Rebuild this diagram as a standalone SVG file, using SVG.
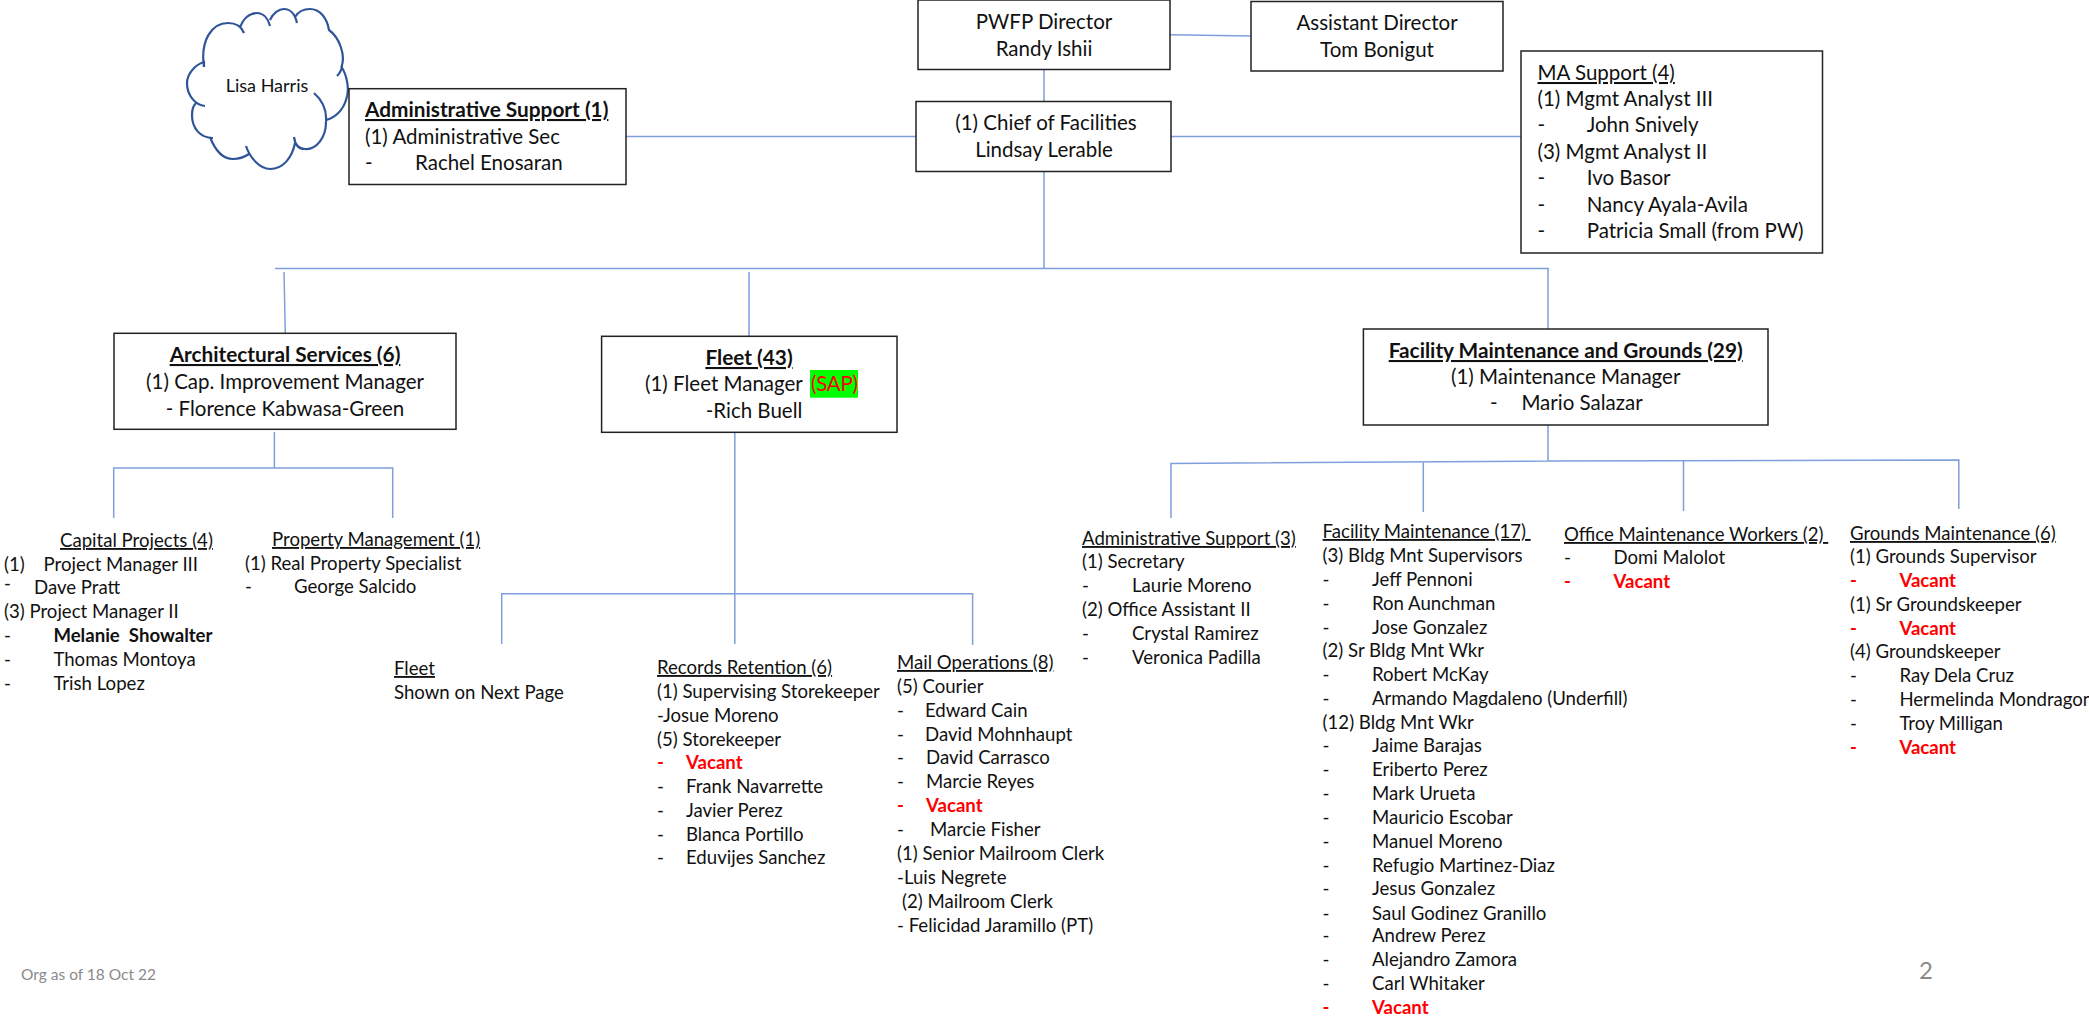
<svg xmlns="http://www.w3.org/2000/svg" width="2089" height="1016" viewBox="0 0 2089 1016">
<style>
text{font-family:"Lato","Carlito","Liberation Sans",sans-serif;fill:#111;font-size:18.6px}
.b{font-size:20.500px}
.m{text-anchor:middle}
.t{font-weight:700;text-decoration:underline;font-size:20.800px}
.u{text-decoration:underline}
.s{font-weight:700}
.v{font-weight:700;fill:#f00}
.r{fill:#f00}
rect.box{fill:#fff;stroke:#222;stroke-width:1.5}
#connectors path{fill:none;stroke:#7f9fdc;stroke-width:1.5}
#cloud path{fill:none;stroke:#2f5597;stroke-width:2.2}
</style>
<rect width="2089" height="1016" fill="#fff"/>
<g id="connectors">
<path d="M1044 69V102M1170 34.700L1251 36M626 136.500H916M1171 136.500H1521M1044 171V269M275 268.500H1549M284 272L285.300 333M749 272V336M1548 269V333"/>
<path d="M274.400 432V468M113.700 518V468H392.700V518"/>
<path d="M734.800 432V644M501.700 644V593.700H972.600V645"/>
<path d="M1548 425V461M1171 518V463.500L1548 461L1958.800 460V509M1423.300 462V512M1683.500 461V511"/>
</g>
<g id="cloud">
<path d="M204 67C200 40 212 23 228 23C237 23 242 28 244 33M240 28C243 18 250 13 257 13C263 13 268 18 270 26M270 20C273 13 279 9 284 9C290 9 295 14 297 23M295 17C298 12 303 9 310 9C320 9 327 18 329 30C340 38 345 55 342 65C342 70 340 73 337 76M341 66C347 75 350 90 346 100C343 110 335 118 326 120M314 93C322 100 327 110 326 122C326 138 316 150 305 149C299 149 295 145 294 137M295 143C292 158 283 169 270 169C260 169 250 158 246 146M249 154C243 158 238 159 233 159C223 159 215 150 210 137M213 138C200 138 192 128 192 115C192 110 193 106 196 103M205 106C195 105 187 95 187 83C187 75 194 65 204 62V67"/>
<text x="267" y="92" class="m" style="font-size:18px">Lisa Harris</text>
</g>
<g id="director"><rect class="box" x="918" y="0" width="252" height="69.500"/><text class="b m" x="1044" y="29">PWFP Director</text><text class="b m" x="1044" y="56">Randy Ishii</text></g>
<g id="assistant"><rect class="box" x="1251" y="1.500" width="252" height="69.500"/><text class="b m" x="1377" y="30">Assistant Director</text><text class="b m" x="1377" y="57">Tom Bonigut</text></g>
<g id="chief"><rect class="box" x="916" y="101.500" width="255" height="70"/><text class="b m" x="1046" y="130">(1) Chief of Facilities</text><text class="b m" x="1044" y="157">Lindsay Lerable</text></g>
<g id="admin"><rect class="box" x="349" y="88.700" width="277" height="95.800"/><text class="t" x="365" y="117">Administrative Support (1)</text><text class="b" x="365" y="144">(1) Administrative Sec</text><text class="b" x="365" y="170">-</text><text class="b" x="415" y="170">Rachel Enosaran</text></g>
<g id="ma-support"><rect class="box" x="1521" y="51" width="301.500" height="202"/>
<text class="b u" x="1537.500" y="80">MA Support (4)</text><text class="b" x="1537.500" y="106">(1) Mgmt Analyst III</text><text class="b" x="1537.500" y="132">-</text><text class="b" x="1586.700" y="132">John Snively</text><text class="b" x="1537.500" y="159">(3) Mgmt Analyst II</text><text class="b" x="1537.500" y="185">-</text><text class="b" x="1586.700" y="185">Ivo Basor</text><text class="b" x="1537.500" y="212">-</text><text class="b" x="1586.700" y="212">Nancy Ayala-Avila</text><text class="b" x="1537.500" y="238">-</text><text class="b" x="1586.700" y="238">Patricia Small (from PW)</text></g>
<g id="architectural"><rect class="box" x="114" y="333.300" width="342" height="96"/><text class="t m" x="285" y="362">Architectural Services (6)</text><text class="b m" x="285" y="389">(1) Cap. Improvement Manager</text><text class="b m" x="285" y="416">-  Florence Kabwasa-Green</text></g>
<g id="fleet"><rect class="box" x="601.600" y="336.300" width="295.400" height="96"/><rect x="810" y="370" width="48" height="27.700" fill="#0f0"/><text class="t m" x="749" y="365">Fleet (43)</text><text class="b" x="645" y="391">(1) Fleet Manager</text><text class="b r" x="811" y="391" textLength="47">(SAP)</text><text class="b m" x="754" y="418">-Rich Buell</text></g>
<g id="fmg"><rect class="box" x="1363.400" y="329" width="404.600" height="96"/><text class="t m" x="1565.700" y="358">Facility Maintenance and Grounds (29)</text><text class="b m" x="1565.700" y="384">(1) Maintenance Manager</text><text class="b" x="1490" y="410">-</text><text class="b" x="1521.400" y="410">Mario Salazar</text></g>
<g id="capital-projects" transform="translate(0 1)">
<text class="u" x="60" y="546">Capital Projects (4)</text><text x="4" y="570">(1)</text><text x="43.600" y="570">Project Manager III</text><text x="4" y="589">-</text><text x="34" y="593">Dave Pratt</text><text x="4" y="617">(3) Project Manager II</text><text x="4" y="641">-</text><text class="s" x="53.400" y="641">Melanie &#160;Showalter</text><text x="4" y="665">-</text><text x="53.400" y="665">Thomas Montoya</text><text x="4" y="689">-</text><text x="53.400" y="689">Trish Lopez</text>
</g>
<g id="property" transform="translate(0 1)">
<text class="u" x="272" y="545">Property Management (1)</text><text x="245" y="569">(1) Real Property Specialist</text><text x="245" y="592">-</text><text x="294" y="592">George Salcido</text>
</g>
<g id="fleet-note" transform="translate(0 1)"><text class="u" x="394" y="674">Fleet</text><text x="394" y="698">Shown on Next Page</text></g>
<g id="records" transform="translate(0 1)">
<text class="u" x="657" y="673">Records Retention (6)</text><text x="657" y="697">(1) Supervising Storekeeper</text><text x="657" y="721">-Josue Moreno</text><text x="657" y="745">(5) Storekeeper</text><text class="v" x="657" y="768">-</text><text class="v" x="686" y="768">Vacant</text><text x="657" y="792">-</text><text x="686" y="792">Frank Navarrette</text><text x="657" y="816">-</text><text x="686" y="816">Javier Perez</text><text x="657" y="840">-</text><text x="686" y="840">Blanca Portillo</text><text x="657" y="863">-</text><text x="686" y="863">Eduvijes Sanchez</text>
</g>
<g id="mail" transform="translate(0 1)">
<text class="u" x="897" y="668">Mail Operations (8)</text><text x="897" y="692">(5) Courier</text><text x="897" y="716">-</text><text x="925" y="716">Edward Cain</text><text x="897" y="740">-</text><text x="925" y="740">David Mohnhaupt</text><text x="897" y="763">-</text><text x="926" y="763">David Carrasco</text><text x="897" y="787">-</text><text x="926" y="787">Marcie Reyes</text><text class="v" x="897" y="811">-</text><text class="v" x="926" y="811">Vacant</text><text x="897" y="835">-</text><text x="930" y="835">Marcie Fisher</text><text x="897" y="859">(1) Senior Mailroom Clerk</text><text x="897" y="883">-Luis Negrete</text><text x="902" y="906.600">(2) Mailroom Clerk</text><text x="897" y="931">- Felicidad Jaramillo (PT)</text>
</g>
<g id="admin-support" transform="translate(0 1)">
<text class="u" x="1082" y="544">Administrative Support (3)</text><text x="1082" y="567">(1) Secretary</text><text x="1082" y="591">-</text><text x="1132" y="591">Laurie Moreno</text><text x="1082" y="615">(2) Office Assistant II</text><text x="1082" y="639">-</text><text x="1132" y="639">Crystal Ramirez</text><text x="1082" y="663">-</text><text x="1132" y="663">Veronica Padilla</text>
</g>
<g id="facility" transform="translate(0 1)">
<text class="u" x="1322.600" y="537" xml:space="preserve">Facility Maintenance (17) </text><text x="1322.600" y="561">(3) Bldg Mnt Supervisors</text><text x="1322.600" y="585">-</text><text x="1372" y="585">Jeff Pennoni</text><text x="1322.600" y="609">-</text><text x="1372" y="609">Ron Aunchman</text><text x="1322.600" y="633">-</text><text x="1372" y="633">Jose Gonzalez</text><text x="1322.600" y="656">(2) Sr Bldg Mnt Wkr</text><text x="1322.600" y="680">-</text><text x="1372" y="680">Robert McKay</text><text x="1322.600" y="704">-</text><text x="1372" y="704">Armando Magdaleno (Underfill)</text><text x="1322.600" y="728">(12) Bldg Mnt Wkr</text><text x="1322.600" y="751">-</text><text x="1372" y="751">Jaime Barajas</text><text x="1322.600" y="775">-</text><text x="1372" y="775">Eriberto Perez</text><text x="1322.600" y="799">-</text><text x="1372" y="799">Mark Urueta</text><text x="1322.600" y="823">-</text><text x="1372" y="823">Mauricio Escobar</text><text x="1322.600" y="847">-</text><text x="1372" y="847">Manuel Moreno</text><text x="1322.600" y="870.600">-</text><text x="1372" y="870.600">Refugio Martinez-Diaz</text><text x="1322.600" y="894">-</text><text x="1372" y="894">Jesus Gonzalez</text><text x="1322.600" y="918.600">-</text><text x="1372" y="918.600">Saul Godinez Granillo</text><text x="1322.600" y="941">-</text><text x="1372" y="941">Andrew Perez</text><text x="1322.600" y="965">-</text><text x="1372" y="965">Alejandro Zamora</text><text x="1322.600" y="989">-</text><text x="1372" y="989">Carl Whitaker</text><text class="v" x="1322.600" y="1013">-</text><text class="v" x="1372" y="1013">Vacant</text>
</g>
<g id="office" transform="translate(0 1)">
<text class="u" x="1564" y="540" xml:space="preserve">Office Maintenance Workers (2) </text><text x="1564" y="563">-</text><text x="1613.500" y="563">Domi Malolot</text><text class="v" x="1564" y="587">-</text><text class="v" x="1613.500" y="587">Vacant</text>
</g>
<g id="grounds" transform="translate(0 1)">
<text class="u" x="1850" y="539">Grounds Maintenance (6)</text><text x="1850" y="562">(1) Grounds Supervisor</text><text class="v" x="1850" y="586">-</text><text class="v" x="1899.400" y="586">Vacant</text><text x="1850" y="610">(1) Sr Groundskeeper</text><text class="v" x="1850" y="634">-</text><text class="v" x="1899.400" y="634">Vacant</text><text x="1850" y="657">(4) Groundskeeper</text><text x="1850" y="681">-</text><text x="1899.400" y="681">Ray Dela Cruz</text><text x="1850" y="705">-</text><text x="1899.400" y="705">Hermelinda Mondragon</text><text x="1850" y="729">-</text><text x="1899.400" y="729">Troy Milligan</text><text class="v" x="1850" y="753">-</text><text class="v" x="1899.400" y="753">Vacant</text>
</g>
<g id="footer"><text x="21" y="980" style="font-size:15.500px;fill:#8a8a8a">Org as of 18 Oct 22</text><text x="1919" y="979" style="font-size:24px;fill:#8a8a8a">2</text></g>
</svg>
